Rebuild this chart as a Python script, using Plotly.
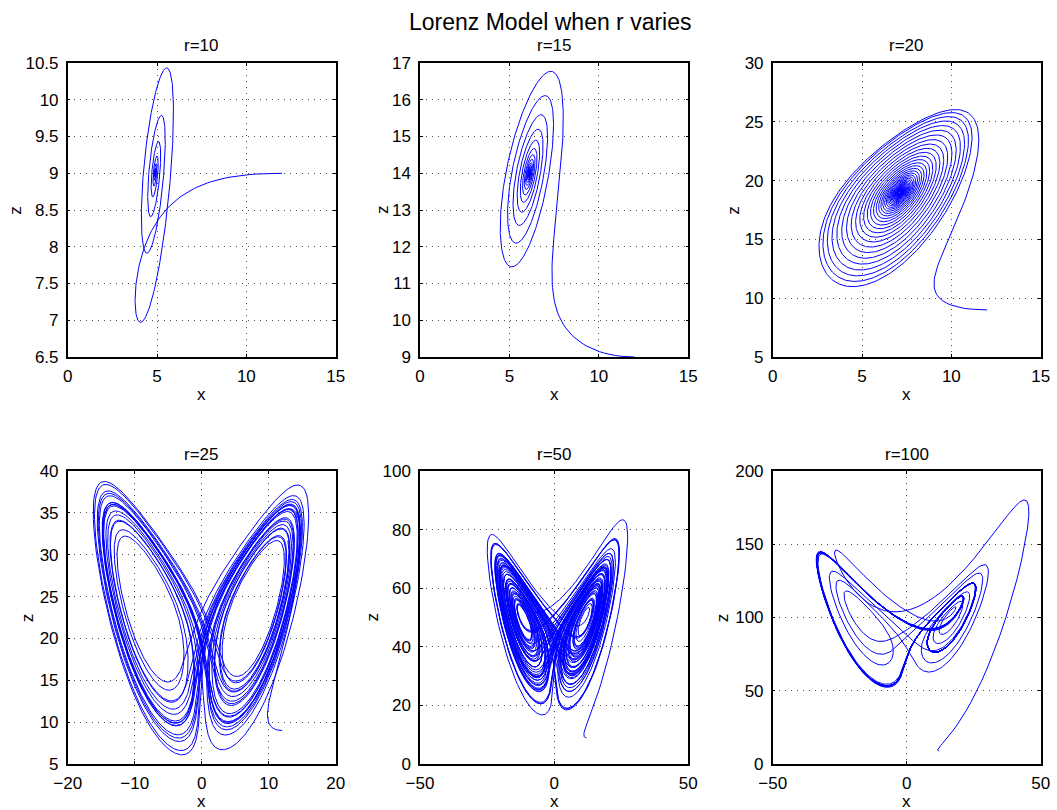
import numpy as np
import plotly.graph_objects as go

# ---------------- data / model parameters ----------------
R_VALUES = [10, 15, 20, 25, 50, 100]
SIGMA = 10.0
BETA = 8.0 / 3.0
INITIAL_STATE = [12.0, 2.0, 9.0]   # x0, y0, z0
T_END = [30.0, 30.0, 30.0, 30.0, 50.0, 30.0]   # simulated time span per panel
DT = 0.001
SAVE_EVERY = 4

TITLES = ["r=10", "r=15", "r=20", "r=25", "r=50", "r=100"]
MAIN_TITLE = "Lorenz Model when r varies"

X_RANGES = [[0, 15], [0, 15], [0, 15], [-20, 20], [-50, 50], [-50, 50]]
Z_RANGES = [[6.5, 10.5], [9, 17], [5, 30], [5, 40], [0, 100], [0, 200]]
X_TICKS = [[0, 5, 10, 15], [0, 5, 10, 15], [0, 5, 10, 15],
           [-20, -10, 0, 10, 20], [-50, 0, 50], [-50, 0, 50]]
Z_TICKS = [[6.5, 7, 7.5, 8, 8.5, 9, 9.5, 10, 10.5],
           [9, 10, 11, 12, 13, 14, 15, 16, 17],
           [5, 10, 15, 20, 25, 30],
           [5, 10, 15, 20, 25, 30, 35, 40],
           [0, 20, 40, 60, 80, 100],
           [0, 50, 100, 150, 200]]


# ---------------- integrate the Lorenz system (RK4) ----------------
def lorenz(s, r):
    x, y, z = s[:, 0], s[:, 1], s[:, 2]
    return np.stack([SIGMA * (y - x), x * (r - z) - y, x * y - BETA * z], axis=1)


r_arr = np.array(R_VALUES, dtype=float)
state = np.tile(np.array(INITIAL_STATE), (len(R_VALUES), 1))
n_steps = int(round(max(T_END) / DT))
saved = [state.copy()]
times = [0.0]
for k in range(1, n_steps + 1):
    k1 = lorenz(state, r_arr)
    k2 = lorenz(state + 0.5 * DT * k1, r_arr)
    k3 = lorenz(state + 0.5 * DT * k2, r_arr)
    k4 = lorenz(state + DT * k3, r_arr)
    state = state + DT / 6.0 * (k1 + 2 * k2 + 2 * k3 + k4)
    if k % SAVE_EVERY == 0:
        saved.append(state.copy())
        times.append(k * DT)
traj = np.array(saved)  # (n, 6, 3)
times = np.array(times)

# ---------------- layout ----------------
W, H = 1057, 810
FONT = "Liberation Sans, Arial, Helvetica, sans-serif"
X_DOM_PX = [(67.7, 335.7), (420.0, 688.3), (772.7, 1040.7)]
Y_DOM_PX = [(63.0, 357.0), (471.0, 764.0)]
ZLABEL_SHIFT = [53, 38, 40, 40, 48, 50]

fig = go.Figure()
annotations = []
layout_axes = {}
for i, r in enumerate(R_VALUES):
    row, col = divmod(i, 3)
    xs = "" if i == 0 else str(i + 1)
    xd = [X_DOM_PX[col][0] / W, X_DOM_PX[col][1] / W]
    yd = [1 - Y_DOM_PX[row][1] / H, 1 - Y_DOM_PX[row][0] / H]
    keep = times <= T_END[i] + 1e-9
    fig.add_trace(go.Scatter(
        x=traj[keep, i, 0], y=traj[keep, i, 2], mode="lines",
        line=dict(color="#0000ff", width=1),
        xaxis="x" + xs, yaxis="y" + xs, showlegend=False, hoverinfo="skip"))
    common = dict(
        automargin=False,
        showline=True, mirror="allticks", linecolor="black", linewidth=1.5,
        ticks="inside", ticklen=3, tickcolor="black", tickwidth=1,
        showgrid=True, gridcolor="rgba(60,60,60,0.9)", griddash="1px,5px", gridwidth=1,
        zeroline=False, tickfont=dict(family=FONT, size=17, color="black"),
        tickmode="array", fixedrange=True,
    )
    layout_axes["xaxis" + xs] = dict(common, domain=xd, range=X_RANGES[i],
                                     tickvals=X_TICKS[i], anchor="y" + xs,
                                     ticklabelstandoff=3)
    layout_axes["yaxis" + xs] = dict(common, domain=yd, range=Z_RANGES[i],
                                     tickvals=Z_TICKS[i], anchor="x" + xs,
                                     ticklabelstandoff=4)
    xc = (xd[0] + xd[1]) / 2
    annotations.append(dict(text=TITLES[i], x=xc, y=yd[1], xref="paper", yref="paper",
                            xanchor="center", yanchor="middle", yshift=17, showarrow=False,
                            font=dict(family=FONT, size=17, color="black")))
    annotations.append(dict(text="x", x=xc, y=yd[0], xref="paper", yref="paper",
                            xanchor="center", yanchor="middle", yshift=-37, showarrow=False,
                            font=dict(family=FONT, size=17, color="black")))
    annotations.append(dict(text="z", x=xd[0], y=(yd[0] + yd[1]) / 2, xref="paper", yref="paper",
                            xanchor="center", yanchor="middle", xshift=-ZLABEL_SHIFT[i],
                            textangle=-90, showarrow=False,
                            font=dict(family=FONT, size=17, color="black")))

annotations.append(dict(text=MAIN_TITLE, x=550 / W, y=1 - 22 / H, xref="paper", yref="paper",
                        xanchor="center", yanchor="middle", showarrow=False,
                        font=dict(family=FONT, size=23, color="black")))

fig.update_layout(
    width=W, height=H, margin=dict(l=0, r=0, t=0, b=0, autoexpand=False),
    paper_bgcolor="white", plot_bgcolor="white",
    annotations=annotations, **layout_axes)

fig.write_html("out.html", config={"displayModeBar": False},
               post_script="document.body.style.margin='0';document.body.style.overflow='hidden';")
